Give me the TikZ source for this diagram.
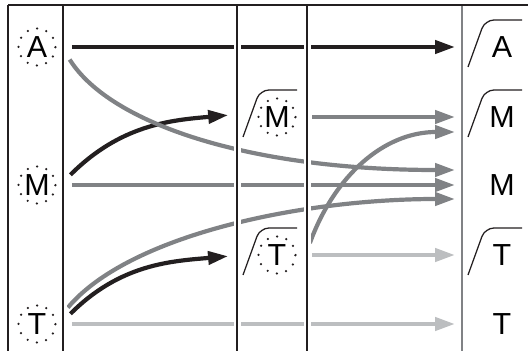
\documentclass[tikz,border=0pt]{standalone}
\usepackage{fontspec}
\setmainfont{Liberation Sans}
\usetikzlibrary{arrows.meta}
\definecolor{inkdark}{RGB}{35,31,32}
\definecolor{inkmid}{RGB}{128,130,133}
\definecolor{inklight}{RGB}{188,190,192}
\begin{document}
\begin{tikzpicture}[x=1in,y=1in,
  stage/.style={circle, draw=inkdark, line width=1.8pt, line cap=round, dash pattern=on 0pt off 6.974pt, minimum size=0.37in, inner sep=0pt, outer sep=0.165in, font=\fontsize{22}{26}\selectfont},
  result/.style={minimum width=0.94in, inner sep=0pt, outer sep=0pt, font=\fontsize{22}{26}\selectfont},
  flow/.style={line width=0.042in, -{Triangle[length=0.2in,width=0.13in]}},
  rise/.style={draw=inkdark, line width=0.9pt, rounded corners=0.09in},
  rule/.style={draw=inkdark, line width=0.9pt}]
\useasboundingbox (0,0) rectangle (5.28,3.51);
\node[stage] (A0) at (0.37,3.04) {A};
\node[stage] (M0) at (0.37,1.66) {M};
\node[stage] (T0) at (0.37,0.27) {T};
\node[stage] (M2) at (2.77,2.34) {M};
\node[stage] (T2) at (2.77,0.96) {T};
\node[result] (A4) at (5.02,3.04) {A};
\node[result] (M4a) at (5.02,2.34) {M};
\node[result] (M4b) at (5.02,1.66) {M};
\node[result] (T4a) at (5.02,0.96) {T};
\node[result] (T4b) at (5.02,0.27) {T};
\foreach \n in {M2,T2,A4,M4a,T4a}
  \draw[rise] ([shift={(-0.34,-0.20)}]\n.center) -- ++(0.17,0.47) -- ++(0.37,0);
\draw[flow,inkdark] (A0.east) -- (A4.west);
\draw[flow,inkdark,shorten >=0.14in] (M0.17) to[out=45,in=-175] (M2.175);
\draw[flow,inkdark,shorten >=0.14in] (T0.17) to[out=45,in=-175] (T2.west);
\draw[flow,inkmid] (A0.-21) to[out=-58,in=180,out distance=0.76in,in distance=2.05in] ([yshift=0.15in]M4b.west);
\draw[flow,inkmid] (M0.east) -- (M4b.west);
\draw[flow,inkmid] (T0.28) to[out=50,in=180,out distance=0.94in,in distance=1.55in] ([yshift=-0.14in]M4b.west);
\draw[flow,inkmid] (M2.east) -- (M4a.west);
\draw[flow,inkmid] (T2.20) to[out=70,in=180] ([yshift=-0.15in]M4a.west);
\draw[flow,inklight] (T0.east) -- (T4b.west);
\draw[flow,inklight] (T2.east) -- (T4a.west);
\foreach \x in {0.08,0.63,2.37,3.07} {
  \draw[white,line width=0.07in] (\x,0) -- (\x,3.46);
  \draw[rule] (\x,0) -- (\x,3.46);
}
\draw[white,line width=0.07in] (4.62,0) -- (4.62,3.46);
\draw[rule,draw=inkmid] (4.62,0) -- (4.62,3.46);
\draw[rule] (0.08,3.46) -- (5.28,3.46);
\end{tikzpicture}
\end{document}
